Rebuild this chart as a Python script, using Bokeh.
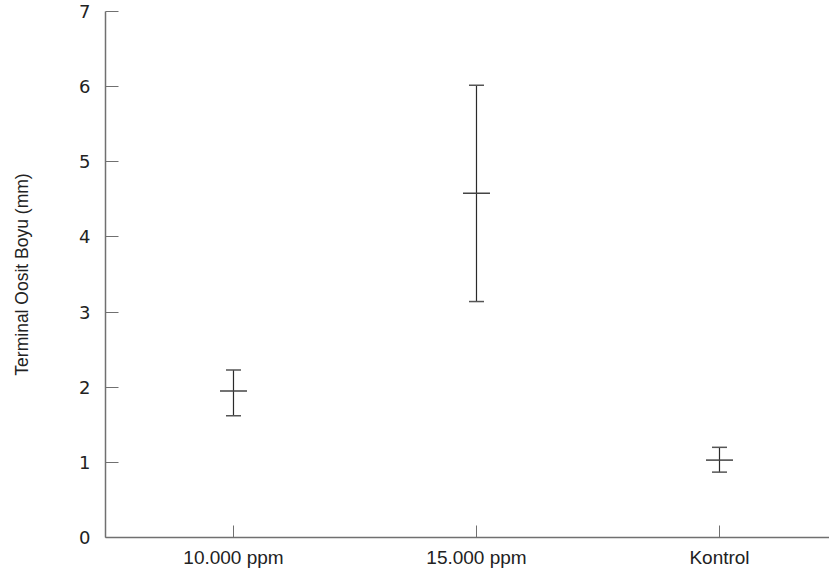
from bokeh.plotting import figure
from bokeh.models import Range1d, FixedTicker, Whisker, TeeHead, ColumnDataSource
from bokeh.embed import file_html
from bokeh.resources import INLINE

categories = ["10.000 ppm", "15.000 ppm", "Kontrol"]
positions = [1, 2, 3]
means = [1.95, 4.58, 1.03]
upper = [2.23, 6.02, 1.20]
lower = [1.62, 3.14, 0.87]
y_ticks = [0, 1, 2, 3, 4, 5, 6, 7]
y_title = "Terminal Oosit Boyu (mm)"

TICK_FONT = "DejaVu Sans"
CAT_FONT = "Liberation Sans"
AX = "#707070"
INK = "#2a2a2a"

p = figure(width=829, height=570, output_backend="svg", toolbar_location=None,
           x_range=Range1d(0.4733, 3.4527), y_range=Range1d(0, 7),
           min_border_left=105, min_border_right=0, min_border_top=11, min_border_bottom=32)
p.outline_line_color = None
p.xgrid.visible = False
p.ygrid.visible = False
p.background_fill_color = "white"
p.border_fill_color = "white"

src = ColumnDataSource(dict(x=positions, m=means, u=upper, l=lower))

w = Whisker(source=src, base="x", upper="u", lower="l", dimension="height",
            line_color=INK, line_width=1.2,
            upper_head=TeeHead(size=15, line_color="#555555", line_width=1.5),
            lower_head=TeeHead(size=15, line_color="#555555", line_width=1.5))
p.add_layout(w)
p.scatter("x", "m", source=src, marker="dash", size=27, line_color="#444444", line_width=1.5)

# y axis
ya = p.yaxis[0]
ya.ticker = FixedTicker(ticks=y_ticks)
ya.axis_line_color = AX
ya.axis_line_width = 1.5
ya.major_tick_line_color = AX
ya.major_tick_in = 13
ya.major_tick_out = 0
ya.minor_tick_line_color = None
ya.major_label_standoff = 15
ya.major_label_text_font = TICK_FONT
ya.major_label_text_font_size = "18px"
ya.major_label_text_color = "#222222"
ya.axis_label = y_title
ya.axis_label_text_font = CAT_FONT
ya.axis_label_text_font_style = "normal"
ya.axis_label_text_font_size = "17.5px"
ya.axis_label_text_color = "#222222"
ya.axis_label_standoff = 44

# x axis
xa = p.xaxis[0]
xa.ticker = FixedTicker(ticks=positions)
xa.major_label_overrides = {pos: cat for pos, cat in zip(positions, categories)}
xa.axis_line_color = AX
xa.axis_line_width = 1.5
xa.major_tick_line_color = AX
xa.major_tick_in = 12
xa.major_tick_out = 0
xa.minor_tick_line_color = None
xa.major_label_standoff = 9
xa.major_label_text_font = CAT_FONT
xa.major_label_text_font_size = "19px"
xa.major_label_text_color = "#222222"

open("out.html", "w").write(file_html(p, INLINE))
